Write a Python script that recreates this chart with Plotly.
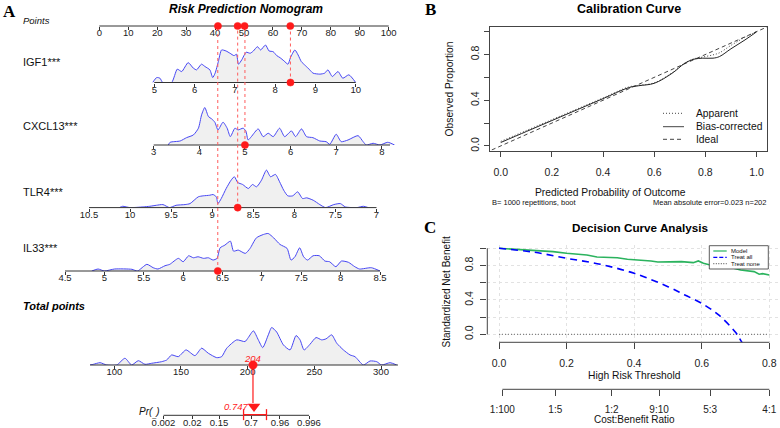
import math
import plotly.graph_objects as go

W, H = 780, 428
FONT = "Liberation Sans, Arial, Helvetica, sans-serif"
SERIF = "Liberation Serif, Times New Roman, serif"

# ---------------- Panel A data (nomogram) ----------------
points_ticks = [0, 10, 20, 30, 40, 50, 60, 70, 80, 90, 100]
igf1_ticks = [5, 6, 7, 8, 9, 10]
cxcl13_ticks = [3, 4, 5, 6, 7, 8]
tlr4_ticks = [10.5, 10, 9.5, 9, 8.5, 8, 7.5, 7]
il33_ticks = [4.5, 5, 5.5, 6, 6.5, 7, 7.5, 8, 8.5]
total_ticks = [100, 150, 200, 250, 300]
pr_ticks = [0.002, 0.02, 0.15, 0.7, 0.96, 0.996]

points_extent = [0, 100]
igf1_extent = [5, 10]
cxcl13_extent = [3, 8.18]
tlr4_extent = [10.5, 7]
il33_extent = [4.5, 8.5]
total_extent = [81.8, 312.7]
pr_extent = [0.002, 0.996]

igf1_x = [4.96, 5.06, 5.14, 5.21, 5.43, 5.57, 5.68, 5.84, 5.97, 6.05, 6.17, 6.26, 6.38, 6.45, 6.51,
          6.59, 6.67, 6.78, 6.88, 6.98, 7.04, 7.09, 7.17, 7.28, 7.38, 7.46, 7.56, 7.64, 7.76, 7.85,
          7.95, 8.04, 8.12, 8.22, 8.32, 8.38, 8.49, 8.57, 8.65, 8.75, 8.86, 8.94, 9.11, 9.23, 9.31,
          9.42, 9.56, 9.68, 9.83, 10.0]
igf1_d = [0, 5, 4.3, 0, 0, 13.4, 11, 20, 14.4, 12.7, 18.4, 16, 12.7, 5, 9.4,
          21, 32.7, 31.7, 29.4, 27, 28.4, 18.4, 22.7, 30.4, 29.4, 31.7, 36, 32.7, 37.7, 31.7,
          31, 27, 25, 21.7, 18.4, 25, 32.7, 27.7, 21, 17, 12.7, 9.4, 8.4, 9.4, 12.7,
          6, 11, 4.3, 7.7, 0]

cxcl13_x = [3.32, 3.36, 3.58, 3.72, 3.87, 3.98, 4.05, 4.12, 4.2, 4.27, 4.34, 4.41, 4.52, 4.61, 4.68,
            4.78, 4.85, 4.96, 5.02, 5.07, 5.14, 5.29, 5.4, 5.51, 5.62, 5.76, 5.87, 6.02, 6.11, 6.24,
            6.35, 6.49, 6.64, 6.78, 6.86, 7.0, 7.11, 7.26, 7.48, 7.59, 7.66, 7.81, 7.96, 8.13, 8.28]
cxcl13_d = [0, 2.7, 4, 7.3, 10, 16.7, 30, 37.3, 28.3, 26, 22.7, 15, 22.7, 16.7, 8.3,
            16.7, 15, 16.7, 14, 5, 8.3, 16, 8.3, 11.7, 8.3, 16.7, 8.3, 14, 8.3, 16,
            8.3, 7.3, 4, 3.3, 0.7, 10.7, 3.3, 5, 9.3, 3.3, 0, 1.7, 0, 2.7, 0]

tlr4_x = [10.13, 10.09, 10.0, 9.84, 9.76, 9.68, 9.6, 9.52, 9.44, 9.33, 9.27, 9.17, 9.11, 9.03, 8.99,
          8.95, 8.93, 8.89, 8.83, 8.77, 8.73, 8.69, 8.63, 8.56, 8.51, 8.46, 8.4, 8.34, 8.29, 8.23,
          8.18, 8.13, 8.08, 8.02, 7.96, 7.9, 7.85, 7.77, 7.69, 7.62, 7.52, 7.44, 7.38, 7.24, 7.16, 7.1]
tlr4_d = [0, 1.3, 0, 0.7, 1.3, 2.3, 3, 0, 2.3, 3, 4, 10.7, 11.7, 12.3, 13,
          10.7, 4, 9, 19, 27.3, 30.7, 25, 23, 19, 23, 20.7, 27.3, 37.3, 30.7, 33,
          25.7, 17.3, 11.7, 11.7, 15.7, 9, 9.7, 7.3, 3, 0, 3, 4, 0.7, 0, 1.3, 0]

il33_x = [4.84, 4.92, 5.0, 5.13, 5.35, 5.42, 5.54, 5.62, 5.68, 5.77, 5.83, 5.94, 6.0, 6.07, 6.13,
          6.19, 6.26, 6.32, 6.38, 6.43, 6.47, 6.53, 6.6, 6.64, 6.7, 6.79, 6.85, 6.93, 7.02, 7.08,
          7.15, 7.23, 7.32, 7.37, 7.42, 7.48, 7.53, 7.58, 7.65, 7.73, 7.8, 7.86, 7.94, 8.01, 8.1,
          8.18, 8.24, 8.39, 8.5]
il33_d = [0, 2, 0, 2, 1.7, 0, 6.7, 3.3, 2, 5.3, 6.7, 12.7, 9.3, 15.3, 13.3,
          14.3, 12.7, 13.3, 11, 12.7, 23.3, 26, 30, 20, 21, 17.7, 22.7, 33.3, 36.7, 37.7,
          33.3, 26.7, 22.7, 11, 14.3, 23.3, 14.3, 11, 15.3, 15.3, 10, 9.3, 4.3, 10, 8.7,
          4.3, 2, 3.3, 0]

total_x = [81.8, 84.3, 89.3, 94.3, 101.8, 108.0, 113.0, 118.0, 123.0, 128.0, 135.5, 139.3, 143.0, 148.0, 153.8,
           160.5, 165.5, 170.5, 176.8, 180.5, 184.3, 191.8, 198.0, 200.5, 204.3, 208.0, 211.3, 215.5, 218.0, 221.8,
           226.8, 231.8, 236.3, 239.3, 242.3, 246.8, 251.3, 255.5, 258.8, 263.0, 266.8, 271.8, 276.8, 280.5, 286.8,
           291.8, 296.8, 300.5, 306.8, 311.8]
total_d = [0, 0.7, 2.3, 0, 0, 6.7, 0, 4.3, 0.7, 1.7, 3.3, 5, 10, 8.3, 15,
           9.3, 16.7, 11.7, 7.3, 8.3, 16.7, 25, 23.3, 27.3, 34, 25, 17.3, 30, 37.3, 32.7,
           20, 15, 29.3, 25, 15, 20.7, 27.3, 25, 26, 30, 21.7, 15, 10, 8.3, 0,
           4, 3.3, 0, 2.3, 0]

variables = ["IGF1", "CXCL13", "TLR4", "IL33"]
patient_values = [8.38, 5.0, 8.69, 6.44]
patient_points = [66.0, 50.2, 47.8, 41.0]
total_points = 204
pred_prob = 0.747
pred_ci = [0.56, 0.89]

# ---------------- Panel B data (calibration) ----------------
cal_x = [0.0, 0.1, 0.2, 0.3, 0.4, 0.5, 0.54, 0.6, 0.67, 0.72, 0.755, 0.79, 0.83, 0.855, 0.9, 0.955, 1.0]
cal_bias = [0.03, 0.126, 0.222, 0.318, 0.414, 0.51, 0.527, 0.548, 0.636, 0.724, 0.759, 0.768, 0.768, 0.782, 0.85, 0.928, 0.998]
cal_apparent = [0.04, 0.135, 0.23, 0.325, 0.42, 0.516, 0.53, 0.552, 0.64, 0.726, 0.762, 0.778, 0.797, 0.815, 0.88, 0.951, 1.0]
ideal_x = [-0.06, 1.06]

# ---------------- Panel C data (decision curve) ----------------
dca_thr = [0, 0.1, 0.16, 0.2, 0.26, 0.29, 0.35, 0.38, 0.42, 0.45, 0.47, 0.49, 0.54, 0.575, 0.59,
           0.605, 0.625, 0.655, 0.695, 0.715, 0.735, 0.755, 0.77, 0.78, 0.8]
dca_model = [1.0, 0.98, 0.961, 0.942, 0.922, 0.899, 0.891, 0.872, 0.864, 0.853, 0.841, 0.841, 0.845, 0.833, 0.853,
             0.826, 0.806, 0.787, 0.768, 0.748, 0.736, 0.729, 0.698, 0.705, 0.69]
treat_all_thr = [0, 0.1, 0.2, 0.3, 0.4, 0.5, 0.55, 0.6, 0.65, 0.7, 0.72, 0.75]
treat_all = [1.0, 0.957, 0.884, 0.814, 0.709, 0.554, 0.457, 0.36, 0.225, 0.023, -0.1, -0.29]
treat_none_thr = [0, 0.8]
treat_none = [0, 0]
dca_ticks = [0, 0.2, 0.4, 0.6, 0.8]
cost_benefit = ["1:100", "1:5", "1:2", "9:10", "5:3", "4:1"]


# ---------------- helpers ----------------
def logit(p):
    return math.log(p / (1 - p))


def px(x):
    return x / W


def py(y):
    return 1 - y / H


def xname(k):
    return "xaxis" if k == 1 else f"xaxis{k}"


def yname(k):
    return "yaxis" if k == 1 else f"yaxis{k}"


def xr(k):
    return "x" if k == 1 else f"x{k}"


def yr(k):
    return "y" if k == 1 else f"y{k}"


def fmt(v):
    return f"{v:g}"


RED = "#ff1a1a"
BLUE = "#4646f4"
AXC = "#333333"
TICKF = dict(family=FONT, size=9.5, color="#222")

fig = go.Figure()
layout = dict(width=W, height=H, margin=dict(l=0, r=0, t=0, b=0),
              paper_bgcolor="white", plot_bgcolor="rgba(0,0,0,0)",
              showlegend=False, font=dict(family=FONT, color="#222"))
shapes = []
annotations = []
dots = []

A_L, A_R = 55, 405
DENS_PX = 37.5

rows = [
    dict(k=1, line=26.0, h=10, v1=0, p1=99.3, v2=100, p2=388.7, ticks=points_ticks, text=[fmt(t) for t in points_ticks],
         ext=points_extent, dx=None, dd=None),
    dict(k=2, line=82.5, h=44, v1=5, p1=154.3, v2=10, p2=355.7, ticks=igf1_ticks, text=[fmt(t) for t in igf1_ticks],
         ext=igf1_extent, dx=igf1_x, dd=igf1_d),
    dict(k=3, line=145.0, h=44, v1=3, p1=153.7, v2=8, p2=381.8, ticks=cxcl13_ticks, text=[fmt(t) for t in cxcl13_ticks],
         ext=cxcl13_extent, dx=cxcl13_x, dd=cxcl13_d),
    dict(k=4, line=207.6, h=44, v1=10.5, p1=89.0, v2=7, p2=376.5, ticks=tlr4_ticks, text=[fmt(t) for t in tlr4_ticks],
         ext=tlr4_extent, dx=tlr4_x, dd=tlr4_d),
    dict(k=5, line=271.0, h=44, v1=4.5, p1=65.0, v2=8.5, p2=380.0, ticks=il33_ticks, text=[fmt(t) for t in il33_ticks],
         ext=il33_extent, dx=il33_x, dd=il33_d),
    dict(k=6, line=365.0, h=44, v1=100, p1=114.3, v2=300, p2=381.0, ticks=total_ticks, text=[fmt(t) for t in total_ticks],
         ext=total_extent, dx=total_x, dd=total_d),
    dict(k=7, line=415.3, h=22, v1=logit(0.002), p1=163.5, v2=logit(0.996), p2=309.0,
         ticks=[logit(p) for p in pr_ticks], text=[fmt(p) for p in pr_ticks],
         ext=[logit(p) for p in pr_extent], dx=None, dd=None),
]

for r in rows:
    k = r["k"]
    slope = (r["v2"] - r["v1"]) / (r["p2"] - r["p1"])
    rng = [r["v1"] + (A_L - r["p1"]) * slope, r["v1"] + (A_R - r["p1"]) * slope]
    layout[xname(k)] = dict(domain=[px(A_L), px(A_R)], range=rng, anchor=yr(k),
                            tickvals=r["ticks"], ticktext=r["text"], ticks="outside", ticklen=3,
                            tickwidth=1, tickcolor=AXC, showline=False, showgrid=False, zeroline=False,
                            tickfont=TICKF, fixedrange=True, ticklabelstandoff=-5)
    layout[yname(k)] = dict(domain=[py(r["line"]), py(r["line"] - r["h"])], range=[0, r["h"] / DENS_PX],
                            visible=False, anchor=xr(k), fixedrange=True)
    shapes.append(dict(type="line", xref=xr(k), yref=f"{yr(k)} domain", x0=r["ext"][0], x1=r["ext"][1],
                       y0=0, y1=0, line=dict(color=AXC, width=1)))
    if r["dx"] is not None:
        m = max(r["dd"])
        fig.add_trace(go.Scatter(x=r["dx"], y=[d / m for d in r["dd"]], mode="lines",
                                 line=dict(color=BLUE, width=1, shape="spline", smoothing=0.6),
                                 fill="tozeroy", fillcolor="#f0f0f0",
                                 xaxis=xr(k), yaxis=yr(k), hoverinfo="skip"))


def dot(k, x, r=3.6):
    dots.append(dict(type="circle", xref=xr(k), yref=f"{yr(k)} domain", xsizemode="pixel", ysizemode="pixel",
                     xanchor=x, yanchor=0, x0=-r, x1=r, y0=-r, y1=r,
                     fillcolor=RED, line=dict(color=RED, width=0.5)))


var_rows = {"IGF1": 2, "CXCL13": 3, "TLR4": 4, "IL33": 5}
row_line = {r["k"]: r["line"] for r in rows}
for name, v, pts in zip(variables, patient_values, patient_points):
    k = var_rows[name]
    shapes.append(dict(type="line", xref=xr(k), yref="paper", x0=v, x1=v,
                       y0=py(row_line[k]), y1=py(row_line[1]),
                       line=dict(color="#ff5c5c", width=1, dash="dot")))
    dot(k, v)
    dot(1, pts)

# total points -> probability
shapes.append(dict(type="line", xref="x6", yref="paper", x0=total_points, x1=total_points,
                   y0=py(row_line[6]), y1=py(403.0), line=dict(color=RED, width=1.2)))
dot(6, total_points, 4.2)
lo, hi = logit(pred_ci[0]), logit(pred_ci[1])
shapes.append(dict(type="line", xref="x7", yref="y7 domain", x0=lo, x1=hi, y0=0.03, y1=0.03,
                   line=dict(color=RED, width=1.3)))
for xv in (lo, hi):
    shapes.append(dict(type="line", xref="x7", yref="y7 domain", ysizemode="pixel",
                       yanchor=0.03, x0=xv, x1=xv, y0=-5.5, y1=5.5, line=dict(color=RED, width=1.3)))
fig.add_trace(go.Scatter(x=[logit(pred_prob)], y=[0.235], mode="markers",
                         marker=dict(symbol="triangle-down", size=11, color=RED),
                         cliponaxis=False, xaxis="x7", yaxis="y7", hoverinfo="skip"))
annotations.append(dict(xref="x6", yref="paper", x=total_points, y=py(358.3), text=f"<i>{total_points}</i>",
                        showarrow=False, font=dict(color=RED, size=9.5, family=FONT), xanchor="center", yanchor="middle"))
annotations.append(dict(xref="x7", yref="paper", x=logit(pred_prob), y=py(406.7), text=f"<i>{pred_prob:g}</i>",
                        showarrow=False, xshift=-4, font=dict(color=RED, size=9.5, family=FONT),
                        xanchor="right", yanchor="middle"))


def ann(x, y, text, size, xanchor="left", angle=0, family=FONT, color="#111"):
    annotations.append(dict(xref="paper", yref="paper", x=px(x), y=py(y), text=text, showarrow=False,
                            xanchor=xanchor, yanchor="middle", textangle=angle, borderpad=0,
                            font=dict(size=size, family=family, color=color)))


ann(2, 11.5, "<b>A</b>", 17, family=SERIF, color="#000")
ann(245.5, 9, "<b><i>Risk Prediction Nomogram</i></b>", 12, xanchor="center", color="#000")
ann(21.5, 20, "<i>Points</i>", 9.5)
ann(21.5, 61.7, "IGF1***", 11)
ann(21.5, 126.0, "CXCL13***", 11)
ann(21.5, 191.7, "TLR4***", 11)
ann(21.5, 248.3, "IL33***", 11)
ann(21.5, 306.0, "<b><i>Total points</i></b>", 11, color="#000")
ann(161, 412.5, "<i>Pr(</i><sub>_</sub><i>)</i>", 10, xanchor="right")

# ---------------- Panel B ----------------
B_TICKF = dict(family=FONT, size=10.5, color="#222")
layout["xaxis8"] = dict(domain=[px(490), px(767)], range=[-0.042, 1.041], anchor="y8", showline=True, mirror=True,
                        linecolor="#444", linewidth=1, ticks="outside", ticklen=5, tickcolor="#444",
                        tickvals=[0, 0.2, 0.4, 0.6, 0.8, 1.0], ticktext=["0.0", "0.2", "0.4", "0.6", "0.8", "1.0"],
                        tickfont=B_TICKF, showgrid=False, zeroline=False, fixedrange=True, ticklabelstandoff=7)
layout["yaxis8"] = dict(domain=[py(150.5), py(27.1)], range=[-0.04, 1.04], anchor="x8", showline=True, mirror=True,
                        linecolor="#444", linewidth=1, ticks="outside", ticklen=5, tickcolor="#444",
                        tickvals=[0, 0.2, 0.4, 0.6, 0.8, 1.0], ticktext=["0.0", " ", "0.4", " ", "0.8", " "],
                        tickangle=-90, tickfont=B_TICKF, showgrid=False, zeroline=False, fixedrange=True,
                        ticklabelstandoff=1)
fig.add_trace(go.Scatter(x=ideal_x, y=ideal_x, mode="lines", line=dict(color="#444", width=1, dash="4px,3px"),
                         xaxis="x8", yaxis="y8", hoverinfo="skip"))
fig.add_trace(go.Scatter(x=cal_x, y=cal_apparent, mode="lines", line=dict(color="#444", width=1, dash="1px,2px", shape="spline"),
                         xaxis="x8", yaxis="y8", hoverinfo="skip"))
fig.add_trace(go.Scatter(x=cal_x, y=cal_bias, mode="lines", line=dict(color="#222", width=1, shape="spline"),
                         xaxis="x8", yaxis="y8", hoverinfo="skip"))

ann(424, 9.5, "<b>B</b>", 17, family=SERIF, color="#000")
ann(628.8, 9.5, "<b>Calibration Curve</b>", 12.5, xanchor="center", color="#000")
ann(449.3, 89.2, "Observed Proportion", 10.3, xanchor="center", angle=-90)
ann(610, 192.8, "Predicted Probability of Outcome", 10.3, xanchor="center")
ann(491, 202.6, "B= 1000 repetitions, boot", 7.5)
ann(767, 202.6, "Mean absolute error=0.023 n=202", 7.5, xanchor="right")
legB = [("Apparent", "1px,2px", 113.3), ("Bias-corrected", "solid", 126.7), ("Ideal", "4px,3px", 139.3)]
for lab, dash, yy in legB:
    shapes.append(dict(type="line", xref="paper", yref="paper", x0=px(663), x1=px(684), y0=py(yy), y1=py(yy),
                       line=dict(color="#444", width=1, dash=dash)))
    ann(695, yy, lab, 10.3)

# ---------------- Panel C ----------------
C_TICKF = dict(family=FONT, size=10.5, color="#222")
c_slope = 0.8 / (769.3 - 499.0)
c_range = [(487.3 - 499.0) * c_slope, (780 - 499.0) * c_slope]
layout["xaxis9"] = dict(domain=[px(487.3), 1.0], range=c_range, anchor="y9", showline=False,
                        ticks="outside", ticklen=6, tickcolor="#444", tickvals=dca_ticks,
                        ticktext=[f"{t:.1f}" for t in dca_ticks], tickfont=C_TICKF,
                        showgrid=True, gridcolor="#e2e2e2", griddash="dot", gridwidth=1, zeroline=False,
                        fixedrange=True, ticklabelstandoff=5)
layout["yaxis9"] = dict(domain=[py(342.3), py(244.7)], range=[-0.093, 1.042], anchor="x9", showline=False,
                        ticks="outside", ticklen=6, tickcolor="#444", tickvals=[0, 0.2, 0.4, 0.6, 0.8, 1.0],
                        ticktext=["0.0", " ", "0.4", " ", "0.8", " "], tickangle=-90, tickfont=C_TICKF,
                        showgrid=True, gridcolor="#e2e2e2", griddash="dot", gridwidth=1, zeroline=False,
                        fixedrange=True, ticklabelstandoff=3)
cb_thr = []
for s in cost_benefit:
    c, b = s.split(":")
    cb_thr.append(float(c) / (float(c) + float(b)))
layout["xaxis10"] = dict(overlaying="x9", anchor="free", position=py(389.3), range=c_range, side="bottom",
                         ticks="outside", ticklen=6, tickcolor="#444", tickvals=cb_thr, ticktext=cost_benefit,
                         tickfont=dict(family=FONT, size=10, color="#222"), showline=False, showgrid=False,
                         zeroline=False, fixedrange=True, ticklabelstandoff=5)
fig.add_trace(go.Scatter(x=cb_thr, y=[0.5] * len(cb_thr), mode="markers", marker=dict(opacity=0),
                         xaxis="x10", yaxis="y9", hoverinfo="skip"))
shapes.append(dict(type="line", xref="x9 domain", yref="y9", x0=0, x1=0, y0=0, y1=1,
                   line=dict(color="#444", width=1)))
shapes.append(dict(type="line", xref="x9", yref="y9 domain", x0=dca_ticks[0], x1=dca_ticks[-1], y0=0, y1=0,
                   line=dict(color="#444", width=1)))
shapes.append(dict(type="line", xref="x10", yref="paper", x0=cb_thr[0], x1=cb_thr[-1], y0=py(389.3), y1=py(389.3),
                   line=dict(color="#444", width=1)))

GREEN = "#2bb35e"
fig.add_trace(go.Scatter(x=treat_none_thr, y=treat_none, mode="lines", line=dict(color="#666", width=1, dash="1px,2px"),
                         xaxis="x9", yaxis="y9", hoverinfo="skip"))
fig.add_trace(go.Scatter(x=dca_thr, y=dca_model, mode="lines", line=dict(color=GREEN, width=1.6),
                         xaxis="x9", yaxis="y9", hoverinfo="skip"))
fig.add_trace(go.Scatter(x=treat_all_thr, y=treat_all, mode="lines",
                         line=dict(color="#0000ff", width=1.6, dash="7px,5px", shape="spline"),
                         xaxis="x9", yaxis="y9", hoverinfo="skip"))

ann(423, 227.5, "<b>C</b>", 17, family=SERIF, color="#000")
ann(640, 227.5, "<b>Decision Curve Analysis</b>", 11.7, xanchor="center", color="#000")
ann(446.7, 291.7, "Standardized Net Benefit", 10, xanchor="center", angle=-90)
ann(634.3, 375.3, "High Risk Threshold", 10.3, xanchor="center")
ann(634.3, 419.5, "Cost:Benefit Ratio", 10, xanchor="center")
shapes.append(dict(type="rect", xref="paper", yref="paper", x0=px(709.3), x1=px(768.3), y0=py(269), y1=py(245.7),
                   line=dict(color="#333", width=0.8), fillcolor="white"))
legC = [("Model", GREEN, "solid", 251.0), ("Treat all", "#0000ff", "4px,2px", 257.4), ("Treat none", "#666", "1px,1.5px", 263.6)]
for lab, col, dash, yy in legC:
    shapes.append(dict(type="line", xref="paper", yref="paper", x0=px(713.3), x1=px(726.7), y0=py(yy), y1=py(yy),
                       line=dict(color=col, width=1.2, dash=dash)))
    ann(730, yy, lab, 6)

layout["shapes"] = shapes + dots
layout["annotations"] = annotations
fig.update_layout(**layout)
fig.write_html("out.html")
